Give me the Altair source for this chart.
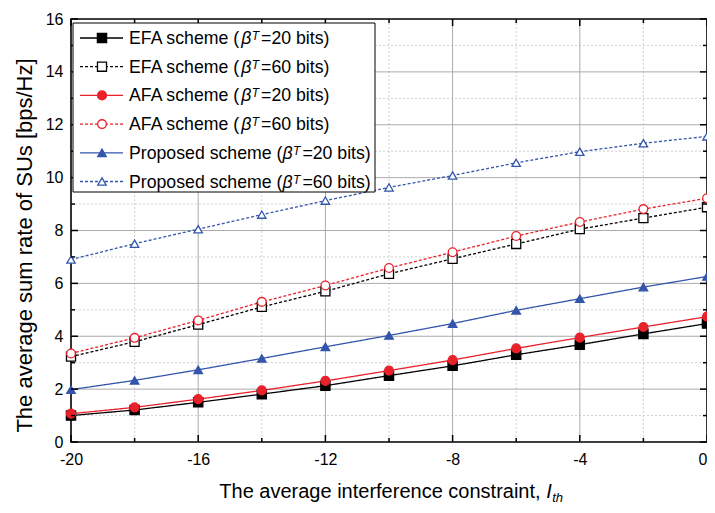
import altair as alt
import pandas as pd

# ---------------- data ----------------
x_vals = [-20, -18, -16, -14, -12, -10, -8, -6, -4, -2, 0]
efa_20 = [1.00, 1.21, 1.50, 1.81, 2.13, 2.51, 2.88, 3.30, 3.68, 4.09, 4.48]
efa_60 = [3.23, 3.79, 4.44, 5.11, 5.70, 6.36, 6.93, 7.49, 8.05, 8.47, 8.88]
afa_20 = [1.07, 1.31, 1.62, 1.95, 2.31, 2.70, 3.10, 3.54, 3.95, 4.35, 4.74]
afa_60 = [3.35, 3.94, 4.60, 5.30, 5.92, 6.58, 7.18, 7.79, 8.32, 8.81, 9.22]
prop_20 = [1.98, 2.33, 2.73, 3.16, 3.60, 4.03, 4.48, 4.98, 5.42, 5.86, 6.26]
prop_60 = [6.90, 7.50, 8.05, 8.60, 9.13, 9.63, 10.08, 10.56, 10.98, 11.30, 11.56]

series_ids = ["EFA20", "EFA60", "AFA20", "AFA60", "P20", "P60"]
series_prefix = ["EFA scheme (", "EFA scheme (", "AFA scheme (", "AFA scheme (",
                 "Proposed scheme (", "Proposed scheme ("]
series_suffix = ["=20 bits)", "=60 bits)", "=20 bits)", "=60 bits)", "=20 bits)", "=60 bits)"]
series_values = [efa_20, efa_60, afa_20, afa_60, prop_20, prop_60]

x_major = [-20, -16, -12, -8, -4, 0]
x_minor = [-18, -14, -10, -6, -2]
y_major = [0, 2, 4, 6, 8, 10, 12, 14, 16]
y_minor = [1, 3, 5, 7, 9, 11, 13, 15]

x_title = "The average interference constraint, "
y_title = "The average sum rate of SUs [bps/Hz]"

# ---------------- styles ----------------
BLACK, RED, BLUE = "#000000", "#e8212a", "#3355aa"
colors = [BLACK, BLACK, RED, RED, BLUE, BLUE]
fills = [BLACK, "#ffffff", RED, "#ffffff", BLUE, "#ffffff"]
dashes = [[1, 0], [3, 2], [1, 0], [3, 2], [1, 0], [3, 2]]
shapes = ["square", "square", "circle", "circle", "triangle-up", "triangle-up"]
sizes = [85, 70, 135, 100, 170, 140]

W, H = 636, 423
FONT = "Liberation Sans"

rows = []
for sid, vals in zip(series_ids, series_values):
    for xv, yv in zip(x_vals, vals):
        rows.append({"s": sid, "x": xv, "y": yv})
df = pd.DataFrame(rows)

xs = alt.Scale(domain=[-20, 0], nice=False, zero=False)
ys = alt.Scale(domain=[0, 16], nice=False, zero=False)
xaxis = alt.Axis(values=x_major, labelFontSize=16, labelFont=FONT, labelColor="black",
                 labelPadding=9, domain=False, ticks=False, grid=False, title=None,
                 labelFlush=False, labelOverlap=False, labelExpr="'' + datum.value",
                 labelAlign=alt.ExprRef(expr="datum.value == 0 ? 'right' : 'center'"))
yaxis = alt.Axis(values=y_major, labelFontSize=16, labelFont=FONT, labelColor="black",
                 labelPadding=8, domain=False, ticks=False, grid=False,
                 title=y_title, titleFontSize=22, titleFont=FONT, titleFontWeight="normal",
                 titleColor="black", titleX=-40, titleY=226, titleAngle=270,
                 titleAlign="center", titleBaseline="alphabetic", labelExpr="'' + datum.value")

X = lambda f="x": alt.X(f"{f}:Q", scale=xs, axis=xaxis)
Y = lambda f="y": alt.Y(f"{f}:Q", scale=ys, axis=yaxis)

col_s = alt.Color("s:N", scale=alt.Scale(domain=series_ids, range=colors), legend=None)
fill_s = alt.Fill("s:N", scale=alt.Scale(domain=series_ids, range=fills), legend=None)
dash_s = alt.StrokeDash("s:N", scale=alt.Scale(domain=series_ids, range=dashes), legend=None)
shape_s = alt.Shape("s:N", scale=alt.Scale(domain=series_ids, range=shapes), legend=None)
size_s = alt.Size("s:N", scale=alt.Scale(domain=series_ids, range=sizes), legend=None)

# grid
def vrules(vals, dash, color, width):
    return alt.Chart(pd.DataFrame({"x": vals})).mark_rule(
        strokeDash=dash, color=color, strokeWidth=width).encode(
        x=X(), y=alt.value(0), y2=alt.value(H))

def hrules(vals, dash, color, width):
    return alt.Chart(pd.DataFrame({"y": vals})).mark_rule(
        strokeDash=dash, color=color, strokeWidth=width).encode(
        y=Y(), x=alt.value(0), x2=alt.value(W))

grid = [
    vrules(x_minor, [2, 2], "#c4c4c4", 0.8),
    hrules(y_minor, [2, 2], "#c4c4c4", 0.8),
    vrules(x_major[1:-1], [1, 0], "#ababab", 1.0),
    hrules(y_major[1:-1], [1, 0], "#ababab", 1.0),
]

# ticks (inward)
def xticks(vals, length):
    d = pd.DataFrame({"x": vals})
    b = alt.Chart(d).mark_rule(color="black", strokeWidth=1.5).encode(
        x=X(), y=alt.value(H), y2=alt.value(H - length))
    t = alt.Chart(d).mark_rule(color="black", strokeWidth=1.5).encode(
        x=X(), y=alt.value(0), y2=alt.value(length))
    return [b, t]

def yticks(vals, length):
    d = pd.DataFrame({"y": vals})
    l = alt.Chart(d).mark_rule(color="black", strokeWidth=1.5).encode(
        y=Y(), x=alt.value(0), x2=alt.value(length))
    r = alt.Chart(d).mark_rule(color="black", strokeWidth=1.5).encode(
        y=Y(), x=alt.value(W), x2=alt.value(W - length))
    return [l, r]

ticks = xticks(x_major, 7) + xticks(x_minor, 4) + yticks(y_major, 7) + yticks(y_minor, 4)

lines = alt.Chart(df).mark_line(strokeWidth=1.3).encode(
    x=X(), y=Y(), color=col_s, strokeDash=dash_s, detail="s:N")
points = alt.Chart(df).mark_point(strokeWidth=1.3, fillOpacity=1, opacity=1).encode(
    x=X(), y=Y(), color=col_s, fill=fill_s, shape=shape_s, size=size_s)

# ---------------- legend (pixel layout -> data units) ----------------
AW = {" ": 278, "A": 667, "E": 667, "F": 611, "P": 667, "(": 333, "c": 500, "d": 556,
      "e": 556, "h": 556, "m": 833, "o": 556, "p": 556, "r": 333, "s": 500}
def tw(s, size):
    return sum(AW.get(ch, 556) for ch in s) * size / 1000.0

px2x = lambda px: -20 + px * 20.0 / W
py2y = lambda py: 16 - py * 16.0 / H

LFS = 17.7
leg_rows = []
for i, (sid, pre, suf) in enumerate(zip(series_ids, series_prefix, series_suffix)):
    py = 19 + i * 28.7
    tx = 58
    bx = tx + tw(pre, LFS)
    Tx = bx + 0.57 * LFS + 0.5
    rx = Tx + 0.611 * 12 + 2
    leg_rows.append({"s": sid, "y": py2y(py), "xl": px2x(9), "xr": px2x(52), "xm": px2x(31),
                     "xt": px2x(tx), "xb": px2x(bx), "xT": px2x(Tx), "xs": px2x(rx),
                     "pre": pre, "suf": suf})
leg = pd.DataFrame(leg_rows)

one = pd.DataFrame({"a": [0]})
leg_box = alt.Chart(one).mark_rect(fill="white", stroke="black", strokeWidth=1).encode(
    x=alt.value(2), x2=alt.value(304), y=alt.value(4), y2=alt.value(173))
leg_line = alt.Chart(leg).mark_rule(strokeWidth=1.3).encode(
    x=X("xl"), x2="xr:Q", y=Y(), color=col_s, strokeDash=dash_s)
leg_pt = alt.Chart(leg).mark_point(strokeWidth=1.3, fillOpacity=1, opacity=1).encode(
    x=X("xm"), y=Y(), color=col_s, fill=fill_s, shape=shape_s, size=size_s)
tbase = dict(font=FONT, color="black", align="left", baseline="alphabetic")
leg_t1 = alt.Chart(leg).mark_text(fontSize=LFS, dy=6, **tbase).encode(
    x=X("xt"), y=Y(), text="pre:N")
leg_t2 = alt.Chart(leg).mark_text(fontSize=LFS, dy=6, fontStyle="italic", **tbase).encode(
    x=X("xb"), y=Y(), text=alt.value("β"))
leg_t3 = alt.Chart(leg).mark_text(fontSize=12, dy=2, fontStyle="italic", **tbase).encode(
    x=X("xT"), y=Y(), text=alt.value("T"))
leg_t4 = alt.Chart(leg).mark_text(fontSize=LFS, dy=6, **tbase).encode(
    x=X("xs"), y=Y(), text="suf:N")

# ---------------- x title with italic I_th ----------------
XF = 20
main_w = sum({"T": 611, "h": 556, "e": 556, " ": 278, "a": 556, "v": 500, "r": 333,
              "g": 556, "i": 222, "n": 556, "t": 278, "f": 278, "c": 500, "o": 556,
              "s": 500, ",": 278}.get(ch, 556) for ch in x_title) * XF / 1000.0
total_w = main_w + 0.278 * XF + 11
x0 = 320 - total_w / 2
TY = 479
xt_main = alt.Chart(one).mark_text(fontSize=XF, **tbase).encode(
    x=alt.value(x0), y=alt.value(TY), text=alt.value(x_title))
xt_I = alt.Chart(one).mark_text(fontSize=XF, fontStyle="italic", **tbase).encode(
    x=alt.value(x0 + main_w), y=alt.value(TY), text=alt.value("I"))
xt_th = alt.Chart(one).mark_text(fontSize=13, fontStyle="italic", **tbase).encode(
    x=alt.value(x0 + main_w + 0.278 * XF + 0.5), y=alt.value(TY + 4), text=alt.value("th"))

chart = alt.layer(
    *grid, lines, points, *ticks,
    leg_box, leg_line, leg_pt, leg_t1, leg_t2, leg_t3, leg_t4,
    xt_main, xt_I, xt_th
).properties(
    width=W, height=H,
    autosize=alt.AutoSizeParams(type="none"),
    padding={"left": 63, "top": 11, "right": 0, "bottom": 63},
    background="white",
).configure_view(stroke="black", strokeWidth=1.6)

chart.save("out.html", embed_options={"renderer": "svg", "actions": False})
